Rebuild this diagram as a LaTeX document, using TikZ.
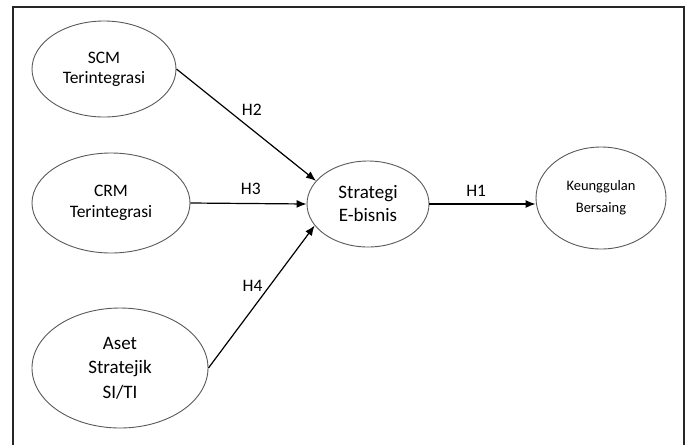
\documentclass[tikz,border=0pt]{standalone}
\usepackage{fontspec}
\setmainfont{Carlito}
\usetikzlibrary{shapes.geometric,arrows.meta}
\tikzstyle{construct}=[ellipse, draw=black!65, line width=0.9pt, inner sep=0pt, align=center]
\tikzstyle{edge}=[line width=1.2pt]
\tikzstyle{labelsty}=[font=\fontsize{17.5}{21}\selectfont, inner sep=0pt]
\tikzstyle{dedge}=[edge,-{Latex[length=10pt,width=8pt]}]
\tikzstyle{frame}=[line width=1.5pt, black!85]

\begin{document}
\begin{tikzpicture}[x=1pt,y=-1pt]
	\useasboundingbox (0,0) rectangle (687,445);
	\draw[frame] (13,445) -- (13,7) -- (684,7) -- (684,445);
	
	\node[construct, minimum width=144pt, minimum height=96pt, font=\fontsize{17.5}{20}\selectfont] (scm) at (104,69) {SCM\\Terintegrasi};
	\node[construct, minimum width=158pt, minimum height=100pt, font=\fontsize{17.5}{21}\selectfont] (crm) at (111,203) {CRM\\Terintegrasi};
	\node[construct, minimum width=176pt, minimum height=120pt, font=\fontsize{19}{24.5}\selectfont] (aset) at (120,368) {Aset\\Stratejik\\SI/TI};
	\node[construct, minimum width=122pt, minimum height=86pt, font=\fontsize{19}{23}\selectfont] (strat) at (368,204) {Strategi\\E-bisnis};
	\node[construct, minimum width=130pt, minimum height=102pt, font=\fontsize{14.5}{22}\selectfont] (keung) at (601,198) {Keunggulan\\Bersaing};
	
	\draw[dedge] (scm.east) -- node[pos=0.54,above=13pt,labelsty] (h2) {H2} (strat.156);
	\draw[dedge] (crm.east) -- node[pos=0.52,above=8pt,labelsty] (h3) {H3} (strat.west);
	\draw[dedge] (aset.east) -- node[pos=0.58,left=7pt,labelsty] (h4) {H4} (strat.202);
	\draw[dedge] (strat.east) -- node[pos=0.44,above=7pt,labelsty] (h1) {H1} (strat.east -| keung.west);
\end{tikzpicture}
\end{document}
